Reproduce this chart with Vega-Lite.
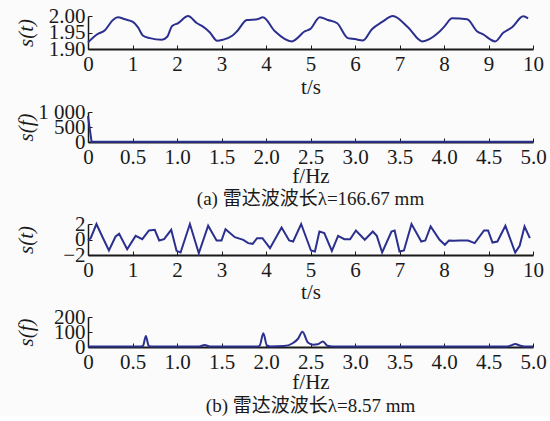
{
  "$schema": "https://vega.github.io/schema/vega-lite/v6.json",
  "background": "#fbfbfb",
  "padding": {"left": 15, "top": 5, "right": 5, "bottom": 0},
  "datasets": {
    "s1": [
      {"t": 0.0, "s": 1.92}, {"t": 0.2, "s": 1.944}, {"t": 0.38, "s": 1.957}, {"t": 0.56, "s": 1.988},
      {"t": 0.67, "s": 1.996}, {"t": 0.83, "s": 1.99}, {"t": 1.01, "s": 1.982}, {"t": 1.12, "s": 1.966},
      {"t": 1.24, "s": 1.94}, {"t": 1.39, "s": 1.933}, {"t": 1.66, "s": 1.928}, {"t": 1.78, "s": 1.937},
      {"t": 1.89, "s": 1.97}, {"t": 2.02, "s": 1.978}, {"t": 2.25, "s": 2.0}, {"t": 2.45, "s": 1.978},
      {"t": 2.56, "s": 1.97}, {"t": 2.74, "s": 1.95}, {"t": 2.9, "s": 1.925}, {"t": 3.03, "s": 1.928},
      {"t": 3.24, "s": 1.94}, {"t": 3.35, "s": 1.954}, {"t": 3.57, "s": 1.988}, {"t": 3.8, "s": 1.99},
      {"t": 3.93, "s": 1.996}, {"t": 4.2, "s": 1.954}, {"t": 4.58, "s": 1.923}, {"t": 4.88, "s": 1.954},
      {"t": 4.99, "s": 1.96}, {"t": 5.21, "s": 1.996}, {"t": 5.39, "s": 1.988}, {"t": 5.6, "s": 1.978},
      {"t": 5.84, "s": 1.933}, {"t": 6.0, "s": 1.93}, {"t": 6.18, "s": 1.926}, {"t": 6.38, "s": 1.96},
      {"t": 6.61, "s": 1.982}, {"t": 6.85, "s": 2.0}, {"t": 7.19, "s": 1.966}, {"t": 7.51, "s": 1.923},
      {"t": 7.87, "s": 1.949}, {"t": 8.02, "s": 1.97}, {"t": 8.18, "s": 1.993}, {"t": 8.52, "s": 1.99},
      {"t": 8.74, "s": 1.954}, {"t": 8.88, "s": 1.944}, {"t": 9.15, "s": 1.923}, {"t": 9.33, "s": 1.949},
      {"t": 9.53, "s": 1.966}, {"t": 9.78, "s": 1.999}, {"t": 9.89, "s": 1.993}
    ],
    "f1": [
      {"f": 0.0, "a": 860}, {"f": 0.04, "a": 10}, {"f": 0.5, "a": 8}, {"f": 1.0, "a": 8},
      {"f": 2.0, "a": 8}, {"f": 3.0, "a": 8}, {"f": 4.0, "a": 8}, {"f": 5.0, "a": 8}
    ],
    "s2": [
      {"t": 0.0, "s": -0.13}, {"t": 0.06, "s": 0.17}, {"t": 0.19, "s": 2.0}, {"t": 0.32, "s": 0.39},
      {"t": 0.47, "s": -1.42}, {"t": 0.62, "s": 0.39}, {"t": 0.7, "s": 0.73}, {"t": 0.88, "s": -1.25},
      {"t": 1.07, "s": 0.47}, {"t": 1.22, "s": 0.04}, {"t": 1.37, "s": 1.16}, {"t": 1.5, "s": 1.25},
      {"t": 1.6, "s": -0.13}, {"t": 1.71, "s": 0.04}, {"t": 1.87, "s": 1.25}, {"t": 1.99, "s": -1.46},
      {"t": 2.08, "s": -1.68}, {"t": 2.29, "s": 2.0}, {"t": 2.49, "s": -1.77}, {"t": 2.7, "s": 1.77},
      {"t": 2.89, "s": -0.13}, {"t": 3.0, "s": -0.13}, {"t": 3.09, "s": 1.33}, {"t": 3.3, "s": 0.3},
      {"t": 3.49, "s": -0.04}, {"t": 3.6, "s": -0.47}, {"t": 3.7, "s": -0.56}, {"t": 3.8, "s": 0.17},
      {"t": 3.92, "s": 0.17}, {"t": 4.09, "s": -1.12}, {"t": 4.35, "s": 1.55}, {"t": 4.52, "s": -0.13},
      {"t": 4.61, "s": -0.26}, {"t": 4.79, "s": 2.0}, {"t": 5.01, "s": -1.42}, {"t": 5.1, "s": -1.55},
      {"t": 5.2, "s": 1.03}, {"t": 5.31, "s": 0.82}, {"t": 5.48, "s": -1.46}, {"t": 5.62, "s": 0.47},
      {"t": 5.76, "s": 0.04}, {"t": 5.89, "s": 0.04}, {"t": 6.02, "s": 1.16}, {"t": 6.22, "s": -0.04},
      {"t": 6.4, "s": 1.03}, {"t": 6.49, "s": 0.47}, {"t": 6.61, "s": -1.68}, {"t": 6.82, "s": 1.03},
      {"t": 6.89, "s": 1.16}, {"t": 7.0, "s": -1.55}, {"t": 7.1, "s": -1.42}, {"t": 7.27, "s": 2.0},
      {"t": 7.49, "s": -0.26}, {"t": 7.58, "s": -0.13}, {"t": 7.7, "s": 1.68}, {"t": 7.9, "s": -0.04},
      {"t": 8.02, "s": -0.68}, {"t": 8.11, "s": -0.13}, {"t": 8.22, "s": -0.17}, {"t": 8.35, "s": -0.13},
      {"t": 8.54, "s": -0.13}, {"t": 8.69, "s": -0.47}, {"t": 8.9, "s": 1.16}, {"t": 8.99, "s": 1.16},
      {"t": 9.09, "s": -0.39}, {"t": 9.2, "s": -0.26}, {"t": 9.38, "s": 1.77}, {"t": 9.6, "s": -1.68},
      {"t": 9.7, "s": -0.81}, {"t": 9.81, "s": 1.68}, {"t": 9.93, "s": 0.17}
    ],
    "f2": [
      {"f": 0.0, "a": 4}, {"f": 0.3, "a": 3}, {"f": 0.6, "a": 3}, {"f": 0.62, "a": 10},
      {"f": 0.65, "a": 74}, {"f": 0.68, "a": 10}, {"f": 0.7, "a": 3}, {"f": 1.25, "a": 3},
      {"f": 1.31, "a": 14}, {"f": 1.37, "a": 3}, {"f": 1.9, "a": 3}, {"f": 1.93, "a": 10},
      {"f": 1.97, "a": 92}, {"f": 2.01, "a": 10}, {"f": 2.05, "a": 4}, {"f": 2.2, "a": 6},
      {"f": 2.3, "a": 25}, {"f": 2.36, "a": 55}, {"f": 2.41, "a": 102}, {"f": 2.47, "a": 30},
      {"f": 2.53, "a": 15}, {"f": 2.58, "a": 18}, {"f": 2.64, "a": 36}, {"f": 2.69, "a": 8},
      {"f": 2.75, "a": 3}, {"f": 3.3, "a": 3}, {"f": 4.7, "a": 3}, {"f": 4.75, "a": 10},
      {"f": 4.8, "a": 20}, {"f": 4.86, "a": 8}, {"f": 4.9, "a": 3}, {"f": 5.0, "a": 3}
    ]
  },
  "bounds": "full",
  "spacing": 4,
  "vconcat": [
    {
      "width": 445, "height": 33,
      "data": {"name": "s1"},
      "mark": {"type": "line", "interpolate": "monotone"},
      "encoding": {
        "x": {"field": "t", "type": "quantitative", "scale": {"domain": [0, 10], "nice": false},
              "axis": {"title": "t/s", "titleY": 38, "values": [0,1,2,3,4,5,6,7,8,9,10], "format": "d"}},
        "y": {"field": "s", "type": "quantitative", "scale": {"domain": [1.9, 2.0], "nice": false, "zero": false},
              "axis": {"title": "s(t)", "values": [1.9, 1.95, 2.0], "format": ".2f"}}
      }
    },
    {
      "width": 445, "height": 30,
      "data": {"name": "f1"},
      "title": {"text": "(a) 雷达波波长λ=166.67 mm", "orient": "bottom", "offset": 4},
      "mark": {"type": "line"},
      "encoding": {
        "x": {"field": "f", "type": "quantitative", "scale": {"domain": [0, 5], "nice": false},
              "axis": {"title": "f/Hz", "titleY": 34, "values": [0,0.5,1,1.5,2,2.5,3,3.5,4,4.5,5], "labelExpr": "datum.value == 0 ? '0' : format(datum.value, '.1f')"}},
        "y": {"field": "a", "type": "quantitative", "scale": {"domain": [0, 1000], "nice": false},
              "axis": {"title": "s(f)", "values": [0, 500, 1000], "labelExpr": "datum.value == 1000 ? '1 000' : datum.label"}}
      }
    },
    {
      "width": 445, "height": 31,
      "data": {"name": "s2"},
      "mark": {"type": "line"},
      "encoding": {
        "x": {"field": "t", "type": "quantitative", "scale": {"domain": [0, 10], "nice": false},
              "axis": {"title": "t/s", "titleY": 37, "values": [0,1,2,3,4,5,6,7,8,9,10], "format": "d"}},
        "y": {"field": "s", "type": "quantitative", "scale": {"domain": [-2, 2], "nice": false},
              "axis": {"title": "s(t)", "values": [-2, 0, 2], "format": "d"}}
      }
    },
    {
      "width": 445, "height": 30,
      "data": {"name": "f2"},
      "title": {"text": "(b) 雷达波波长λ=8.57 mm", "orient": "bottom", "offset": 5},
      "mark": {"type": "line", "interpolate": "monotone"},
      "encoding": {
        "x": {"field": "f", "type": "quantitative", "scale": {"domain": [0, 5], "nice": false},
              "axis": {"title": "f/Hz", "titleY": 35, "values": [0,0.5,1,1.5,2,2.5,3,3.5,4,4.5,5], "labelExpr": "datum.value == 0 ? '0' : format(datum.value, '.1f')"}},
        "y": {"field": "a", "type": "quantitative", "scale": {"domain": [0, 200], "nice": false},
              "axis": {"title": "s(f)", "values": [0, 100, 200], "format": "d"}}
      }
    }
  ],
  "config": {
    "view": {"stroke": null},
    "line": {"color": "#2B2F8E", "strokeWidth": 2},
    "axis": {
      "labelFont": "Liberation Serif", "titleFont": "Liberation Serif",
      "labelFontSize": 21, "titleFontSize": 21, "titleFontWeight": "normal",
      "labelColor": "#1a1a1a", "titleColor": "#1a1a1a", "domainColor": "#1a1a1a", "tickColor": "#1a1a1a",
      "grid": false, "tickSize": -4, "labelOverlap": false, "labelFlush": false, "domainWidth": 1.5
    },
    "axisX": {"labelPadding": 8, "titleBaseline": "middle", "domainWidth": 2},
    "axisY": {"labelPadding": 7, "titleX": -62, "titleFontStyle": "italic", "titleBaseline": "middle"},
    "title": {"font": "Liberation Serif, Noto Sans CJK SC", "fontSize": 19, "fontWeight": "normal", "color": "#1a1a1a", "anchor": "middle"}
  }
}
